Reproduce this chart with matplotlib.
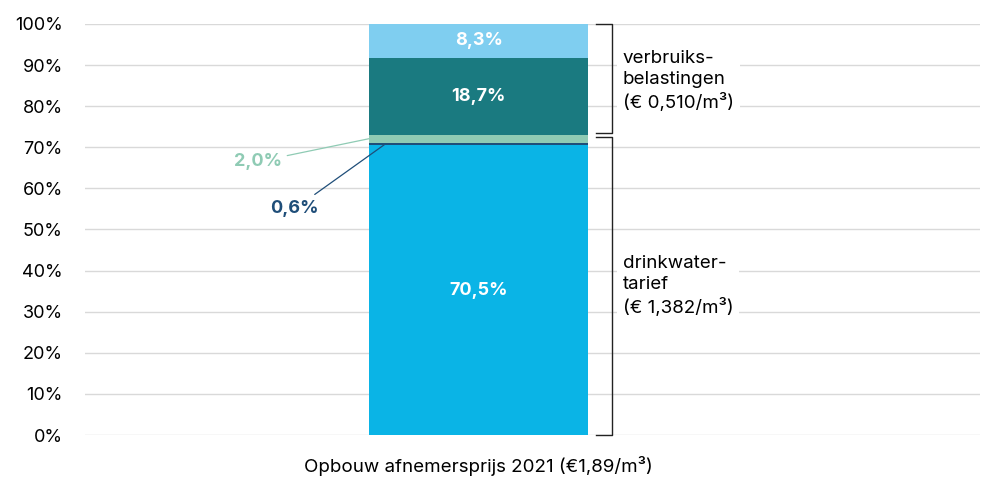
import matplotlib.pyplot as plt

# stacked segments, bottom to top
segments = ['drinkwater', 'extra', 'groen', 'belasting', 'overig']
values = [70.5, 0.6, 2.0, 18.7, 8.3]
labels = ['70,5%', '0,6%', '2,0%', '18,7%', '8,3%']
colors = ['#0AB4E6', '#1F4E79', '#8FCBB4', '#1A7A80', '#7FCEF0']

yticks = list(range(0, 101, 10))
ytick_labels = [str(v) + '%' for v in yticks]
x_label = 'Opbouw afnemersprijs 2021 (€1,89/m³)'

plt.rcParams['font.family'] = ['Inter', 'DejaVu Sans']

fig = plt.figure(figsize=(9.83, 4.78), dpi=100)
ax = fig.add_axes([85 / 983, 43 / 478, 895 / 983, 411 / 478])

bar_x = 0.44
bar_w = 0.245
bottom = 0
mids = []
for val, col in zip(values, colors):
  ax.bar(bar_x, val, width=bar_w, bottom=bottom, color=col, zorder=2)
  mids.append(bottom + val / 2)
  bottom += val

# labels inside the wide segments
for i in [0, 3, 4]:
  ax.text(bar_x, mids[i], labels[i], color='white', fontweight='bold',
          ha='center', va='center', fontsize=13, zorder=3)

# the thin segments get a leader line
ax.annotate(labels[2], xy=(bar_x - bar_w / 2, mids[2]), xytext=(0.193, 66.5),
            color=colors[2], fontweight='bold', fontsize=13, ha='center', va='center',
            arrowprops=dict(arrowstyle='-', color=colors[2], lw=0.9, shrinkA=2, shrinkB=0))
ax.annotate(labels[1], xy=(bar_x - bar_w / 2 + 0.018, mids[1]), xytext=(0.234, 55),
            color=colors[1], fontweight='bold', fontsize=13, ha='center', va='center',
            arrowprops=dict(arrowstyle='-', color=colors[1], lw=0.9, shrinkA=4, shrinkB=0))

# brackets on the right
bx = 0.589
tick = 0.018
top_lo = values[0] + values[1] + values[2] + 0.4
ax.plot([bx - tick, bx, bx, bx - tick], [100, 100, top_lo, top_lo], color='#222222',
        lw=1, zorder=3, clip_on=False)
low_hi = top_lo - 1
ax.plot([bx - tick, bx, bx, bx - tick], [low_hi, low_hi, 0, 0], color='#222222',
        lw=1, zorder=3, clip_on=False)

box = dict(facecolor='white', edgecolor='none', pad=4)
ax.text(0.601, 86.1, 'verbruiks-\nbelastingen\n(€ 0,510/m³)', fontsize=13.5,
        va='center', ha='left', linespacing=1.3, bbox=box, zorder=3)
ax.text(0.601, 36.3, 'drinkwater-\ntarief\n(€ 1,382/m³)', fontsize=13.5,
        va='center', ha='left', linespacing=1.3, bbox=box, zorder=3)

ax.set_xlim(0, 1)
ax.set_ylim(0, 100)
ax.set_yticks(yticks)
ax.set_yticklabels(ytick_labels, fontsize=13)
ax.set_xticks([])
ax.text(bar_x, -5, x_label, fontsize=13.5, ha='center', va='top')
ax.yaxis.grid(True, color='#d9d9d9', lw=1, zorder=0)
ax.set_axisbelow(True)
for s in ax.spines.values():
  s.set_visible(False)
ax.tick_params(axis='y', length=0, pad=16)

fig.savefig('out.png', dpi=100)
